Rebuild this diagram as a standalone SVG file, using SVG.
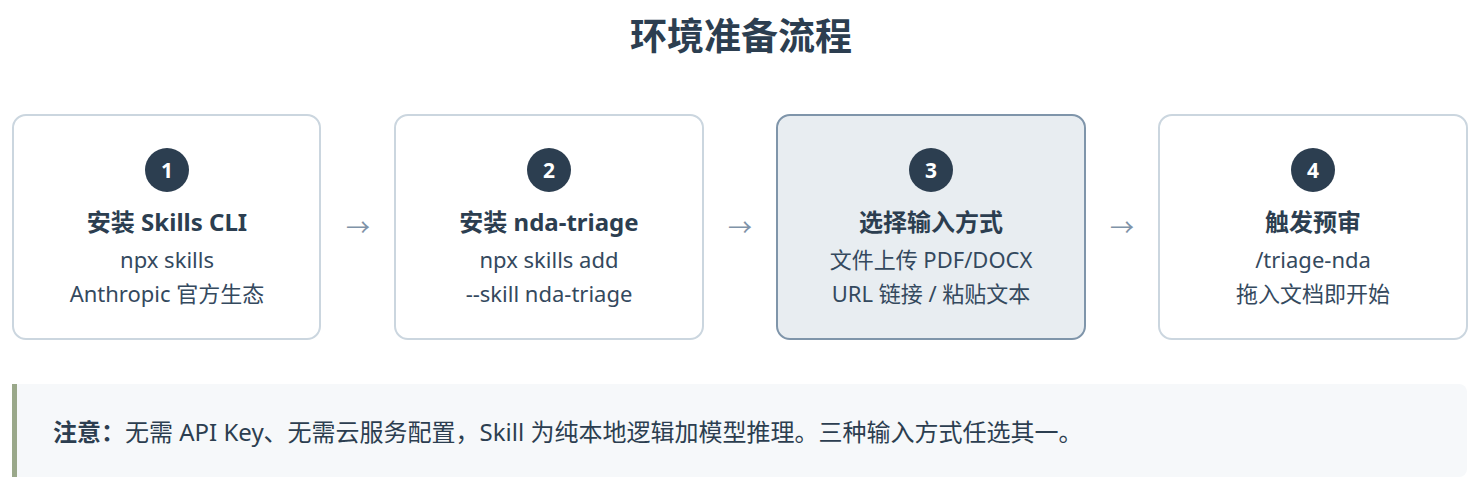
<svg xmlns="http://www.w3.org/2000/svg" width="1482" height="488" viewBox="0 0 1482 488">
<style>
text{font-family:"Noto Sans","Noto Sans CJK SC",sans-serif;fill:#2c3e50}
.box{fill:#fff;stroke:#cbd6df;stroke-width:2}
.hl{fill:#e8edf1;stroke:#7f95aa;stroke-width:2}
.num{fill:#2c3e50}
.nt{fill:#fff;font-size:21px;font-weight:bold;text-anchor:middle}
.t{font-size:24px;font-weight:bold;text-anchor:middle}
.s{font-size:22px;text-anchor:middle;fill:#34495e}
.arr{font-size:24px;fill:#7f93a8;text-anchor:middle}
</style>
<rect width="1482" height="488" fill="#fff"/>
<text x="741" y="50" font-size="37" font-weight="bold" text-anchor="middle">环境准备流程</text>
<g id="n1"><rect class="box" x="13" y="115" width="307" height="224" rx="13"/><circle class="num" cx="167" cy="170" r="22"/><text class="nt" x="167" y="178">1</text><text class="t" x="167" y="231">安装 Skills CLI</text><text class="s" x="167" y="268">npx skills</text><text class="s" x="167" y="302">Anthropic 官方生态</text></g>
<g id="n2"><rect class="box" x="395" y="115" width="308" height="224" rx="13"/><circle class="num" cx="549" cy="170" r="22"/><text class="nt" x="549" y="178">2</text><text class="t" x="549" y="231">安装 nda-triage</text><text class="s" x="549" y="268">npx skills add</text><text class="s" x="549" y="302">--skill nda-triage</text></g>
<g id="n3"><rect class="hl" x="777" y="115" width="308" height="224" rx="13"/><circle class="num" cx="931" cy="170" r="22"/><text class="nt" x="931" y="178">3</text><text class="t" x="931" y="231">选择输入方式</text><text class="s" x="931" y="268">文件上传 PDF/DOCX</text><text class="s" x="931" y="302">URL 链接 / 粘贴文本</text></g>
<g id="n4"><rect class="box" x="1159" y="115" width="308" height="224" rx="13"/><circle class="num" cx="1313" cy="170" r="22"/><text class="nt" x="1313" y="178">4</text><text class="t" x="1313" y="231">触发预审</text><text class="s" x="1313" y="268">/triage-nda</text><text class="s" x="1313" y="302">拖入文档即开始</text></g>
<g id="connectors"><text class="arr" x="358" y="236">→</text><text class="arr" x="740" y="236">→</text><text class="arr" x="1122" y="236">→</text></g>
<g id="note"><rect x="12" y="384" width="1455" height="93" rx="8" fill="#f6f8fa"/><rect x="12" y="384" width="5" height="93" fill="#9aa88a"/><text x="53" y="441" font-size="24"><tspan font-weight="bold">注意：</tspan>无需 API Key、无需云服务配置，Skill 为纯本地逻辑加模型推理。三种输入方式任选其一。</text></g>
</svg>
